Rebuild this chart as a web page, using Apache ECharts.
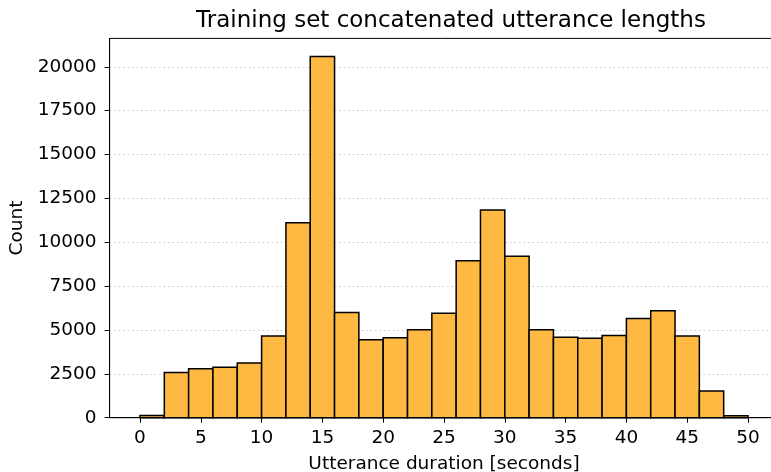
<!DOCTYPE html>
<html>
<head>
<meta charset="utf-8">
<script src="https://cdn.jsdelivr.net/npm/echarts@6/dist/echarts.min.js"></script>
<style>
html,body{margin:0;padding:0;background:#fff;}
#chart{width:771px;height:472px;}
</style>
</head>
<body>
<div id="chart"></div>
<script>
// Histogram bins (seconds): start of each 2-second bin
const binStarts = [0, 2, 4, 6, 8, 10, 12, 14, 16, 18, 20, 22, 24, 26, 28, 30, 32, 34, 36, 38, 40, 42, 44, 46, 48];
const binWidth = 2;
const counts = [120, 2580, 2790, 2870, 3120, 4650, 11110, 20590, 6000, 4450, 4560, 5020, 5950, 8950, 11840, 9200, 5020, 4590, 4530, 4680, 5660, 6100, 4650, 1520, 110];
const xTicks = [0, 5, 10, 15, 20, 25, 30, 35, 40, 45, 50];
const yTicks = [0, 2500, 5000, 7500, 10000, 12500, 15000, 17500, 20000];
const titleText = 'Training set concatenated utterance lengths';
const xName = 'Utterance duration [seconds]';
const yName = 'Count';

const FONT = 'DejaVu Sans';
const data = binStarts.map((s, i) => [s, counts[i]]);
const yMax = Math.max(...counts) * 1.05;

const chart = echarts.init(document.getElementById('chart'), null, {renderer: 'canvas'});
chart.setOption({
  animation: false,
  backgroundColor: '#ffffff',
  title: {
    text: titleText,
    left: 446, top: 5, textAlign: 'center',
    textStyle: {fontFamily: FONT, fontSize: 23, fontWeight: 'normal', color: '#000'}
  },
  grid: {
    left: 109.6, top: 38.4, width: 668.8, height: 379.3,
    outerBoundsMode: 'none', containLabel: false,
    show: true, borderColor: '#000', borderWidth: 1, backgroundColor: 'transparent'
  },
  xAxis: {
    type: 'value', min: -2.5, max: 52.5,
    name: xName, nameLocation: 'middle', nameGap: 37,
    nameTextStyle: {fontFamily: FONT, fontSize: 18.5, color: '#000'},
    axisLine: {show: true, onZero: false, lineStyle: {color: '#000', width: 1}},
    axisTick: {show: true, length: 5, lineStyle: {color: '#000', width: 1}, customValues: xTicks},
    axisLabel: {fontFamily: FONT, fontSize: 18.5, color: '#000', margin: 11, customValues: xTicks,
      formatter: v => String(v)},
    splitLine: {show: false}
  },
  yAxis: {
    type: 'value', min: 0, max: yMax, interval: 2500,
    name: yName, nameLocation: 'middle', nameGap: 81, nameRotate: 90,
    nameTextStyle: {fontFamily: FONT, fontSize: 18.5, color: '#000'},
    axisLine: {show: true, onZero: false, lineStyle: {color: '#000', width: 1}},
    axisTick: {show: true, length: 5, lineStyle: {color: '#000', width: 1}, customValues: yTicks},
    axisLabel: {fontFamily: FONT, fontSize: 18.5, color: '#000', margin: 13, customValues: yTicks,
      formatter: v => String(v)},
    splitLine: {show: true, lineStyle: {color: '#c8c8c8', width: 1, type: [1.5, 3]}}
  },
  series: [{
    type: 'custom',
    data: data,
    encode: {x: 0, y: 1},
    renderItem: function (params, api) {
      const x0 = api.value(0);
      const v = api.value(1);
      const p0 = api.coord([x0, v]);
      const p1 = api.coord([x0 + binWidth, 0]);
      return {
        type: 'rect',
        shape: {x: p0[0], y: p0[1], width: p1[0] - p0[0], height: p1[1] - p0[1]},
        style: {fill: '#fdb942', stroke: '#000', lineWidth: 1.5}
      };
    }
  }]
});
</script>
</body>
</html>
